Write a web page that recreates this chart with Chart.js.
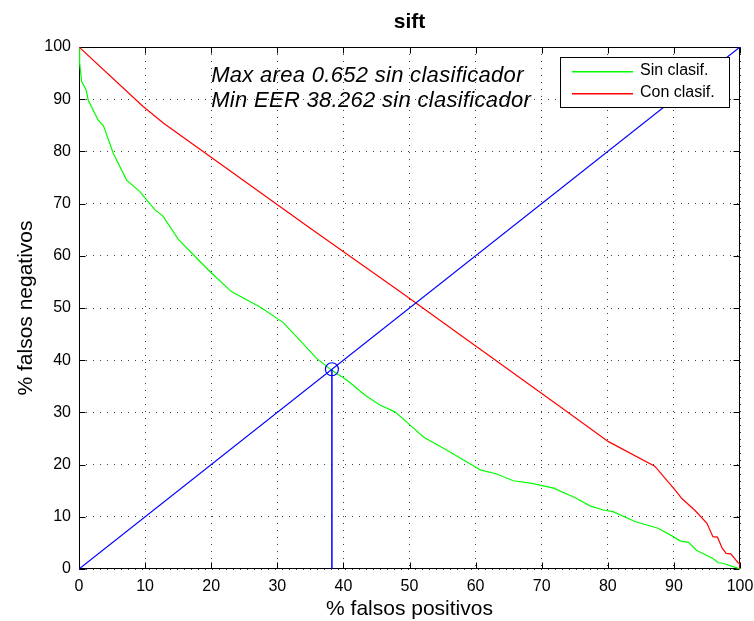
<!DOCTYPE html>
<html>
<head>
<meta charset="utf-8">
<script src="https://cdn.jsdelivr.net/npm/chart.js@4.4.0/dist/chart.umd.min.js"></script>
<style>
html,body{margin:0;padding:0;background:#fff;}
#wrap{width:754px;height:621px;}
</style>
</head>
<body>
<div id="wrap"><canvas id="c" width="754" height="621"></canvas></div>
<script>
// ---- data ----
const chartTitle = 'sift';
const xAxisTitle = '% falsos positivos';
const yAxisTitle = '% falsos negativos';
const xTicks = [0,10,20,30,40,50,60,70,80,90,100];
const yTicks = [0,10,20,30,40,50,60,70,80,90,100];

const sinLabel = 'Sin clasif.';
const sinX = [0,0.1,0.4,1.1,1.4,2.9,3.7,5.2,7.2,9.2,11.5,12.7,15.0,18.3,19.8,23.1,27.4,30.9,32.9,35.9,38.2,40.5,43.3,45.5,47.8,49.8,52.1,55.6,59.9,60.7,63.2,65.7,68.5,71.8,75.0,77.3,79.3,80.8,84.1,87.6,89.9,90.9,92.2,93.4,95.9,96.7,97.4,100];
const sinY = [100,96.9,93.4,91.7,89.8,86.0,84.9,79.6,74.5,72.3,68.8,67.6,63.2,58.9,57.0,53.1,50.2,47.2,44.5,40.4,38.1,36.2,33.3,31.4,30.1,27.9,25.3,22.8,19.6,19.0,18.2,16.9,16.4,15.5,13.7,12.1,11.3,11.0,9.1,7.8,6.2,5.4,5.1,3.6,2.0,1.2,1.1,0];

const conLabel = 'Con clasif.';
const conX = [0,9.7,12.8,35.2,48.6,72.8,80.1,87.1,90.2,91.2,93.2,95.0,95.9,96.6,97.3,97.9,98.6,99.2,99.7,100,100];
const conY = [100,88.6,85.4,65.1,53.1,31.1,24.4,19.7,15.1,13.5,11.2,8.75,6.2,6.1,4.0,3.0,2.9,2.0,1.2,1.0,0];

const diagX = [0,100];
const diagY = [0,100];

const maxArea = 0.652;
const minEER = 38.262;
const annotLines = ['Max area ' + maxArea.toFixed(3) + ' sin clasificador',
                    'Min EER ' + minEER.toFixed(3) + ' sin clasificador'];

// ---- helpers ----
const pts = (xs, ys) => xs.map((v, i) => ({x: v, y: ys[i]}));
const FONT = "'Liberation Sans', Arial, sans-serif";
const GREEN = 'rgb(0,255,0)', RED = 'rgb(255,0,0)', BLUE = 'rgb(0,0,255)';
const legendLabels = [sinLabel, conLabel];
const legendColors = [GREEN, RED];

// annotation anchor (data units)
const annotAnchor = {x: 20, y1: 93.35, y2: 88.5};

const framePlugin = {
  id: 'frame',
  beforeDatasetsDraw(chart) {
    const {ctx, chartArea: a, scales: {x, y}} = chart;
    ctx.save();
    ctx.strokeStyle = '#000';
    ctx.lineWidth = 1;
    ctx.beginPath();
    const L = Math.round(a.left) + 0.5, R = Math.round(a.right) - 0.5;
    const T = Math.round(a.top) + 0.5, B = Math.round(a.bottom) - 0.5;
    xTicks.forEach(v => {
      const px = Math.round(x.getPixelForValue(v)) + 0.5;
      ctx.moveTo(px, B); ctx.lineTo(px, B - 6);
      ctx.moveTo(px, T); ctx.lineTo(px, T + 6);
    });
    yTicks.forEach(v => {
      const py = Math.round(y.getPixelForValue(v)) + 0.5;
      ctx.moveTo(L, py); ctx.lineTo(L + 6, py);
      ctx.moveTo(R, py); ctx.lineTo(R - 6, py);
    });
    ctx.stroke();
    ctx.strokeRect(L, T, R - L, B - T);
    ctx.restore();
  }
};

const overlayPlugin = {
  id: 'overlay',
  afterDraw(chart) {
    const {ctx, chartArea: a, scales: {x, y}} = chart;
    ctx.save();
    ctx.setLineDash([]);
    ctx.globalAlpha = 1;
    // annotation text
    ctx.fillStyle = '#000';
    ctx.font = 'italic 22px ' + FONT;
    ctx.letterSpacing = '0.3px';
    ctx.textBaseline = 'alphabetic';
    ctx.textAlign = 'left';
    const ax = x.getPixelForValue(annotAnchor.x);
    ctx.fillText(annotLines[0], ax, y.getPixelForValue(annotAnchor.y1));
    ctx.fillText(annotLines[1], ax, y.getPixelForValue(annotAnchor.y2));
    ctx.letterSpacing = '0px';
    // legend
    const bw = 169, bh = 50;
    const bx = Math.round(a.right) - 11 - bw, by = Math.round(a.top) + 10;
    ctx.fillStyle = '#fff';
    ctx.fillRect(bx, by, bw, bh);
    ctx.strokeStyle = '#000';
    ctx.lineWidth = 1;
    ctx.strokeRect(bx + 0.5, by + 0.5, bw, bh);
    ctx.font = '16px ' + FONT;
    ctx.textBaseline = 'middle';
    legendLabels.forEach((lab, i) => {
      const cy = by + 14 + i * 22;
      ctx.fillStyle = legendColors[i];
      ctx.fillRect(bx + 12, cy, 61, 1.5);
      ctx.fillStyle = '#000';
      ctx.fillText(lab, bx + 80, cy);
    });
    ctx.restore();
  }
};

new Chart(document.getElementById('c'), {
  type: 'scatter',
  data: {
    datasets: [
      {label: sinLabel, data: pts(sinX, sinY), showLine: true, borderColor: GREEN, borderWidth: 1.2, pointRadius: 0, order: 4},
      {label: conLabel, data: pts(conX, conY), showLine: true, borderColor: RED, borderWidth: 1.2, pointRadius: 0, order: 3},
      {label: 'diag', data: pts(diagX, diagY), showLine: true, borderColor: BLUE, borderWidth: 1.2, pointRadius: 0, order: 2},
      {label: 'eer line', data: [{x: minEER, y: 0}, {x: minEER, y: minEER}], showLine: true, borderColor: BLUE, borderWidth: 1.5, pointRadius: 0, order: 1},
      {label: 'eer', data: [{x: minEER, y: minEER}], showLine: false, borderColor: BLUE, backgroundColor: 'rgba(0,0,0,0)', pointRadius: 6.5, pointBorderWidth: 1.2, order: 0}
    ]
  },
  options: {
    responsive: false,
    animation: false,
    events: [],
    layout: {padding: {left: 0, right: 14, top: 0, bottom: 0}},
    plugins: {
      legend: {display: false},
      tooltip: {enabled: false},
      title: {
        display: true, text: chartTitle, fullSize: false, color: '#000',
        font: {family: FONT, size: 21, weight: 'bold', lineHeight: 1.2},
        padding: {top: 9.4, bottom: 12.4}
      }
    },
    scales: {
      x: {
        type: 'linear', min: 0, max: 100,
        afterBuildTicks: s => { s.ticks = xTicks.map(v => ({value: v})); },
        afterFit: s => { s.height = 52; s.paddingLeft = 0; s.paddingRight = 0; },
        ticks: {color: '#000', font: {family: FONT, size: 16}, padding: 8, maxRotation: 0, autoSkip: false},
        grid: {color: 'rgba(0,0,0,0.75)', lineWidth: 1, drawTicks: false},
        border: {display: false, dash: [1, 6]},
        title: {display: true, text: xAxisTitle, color: '#000', font: {family: FONT, size: 21, lineHeight: 1}, padding: {top: 0, bottom: 0.8}}
      },
      y: {
        type: 'linear', min: 0, max: 100,
        afterBuildTicks: s => { s.ticks = yTicks.map(v => ({value: v})); },
        afterFit: s => { s.width = 79; s.paddingTop = 0; s.paddingBottom = 0; },
        ticks: {color: '#000', font: {family: FONT, size: 16}, padding: 8, autoSkip: false},
        grid: {color: 'rgba(0,0,0,0.75)', lineWidth: 1, drawTicks: false},
        border: {display: false, dash: [1, 6]},
        title: {display: true, text: yAxisTitle, color: '#000', font: {family: FONT, size: 21, lineHeight: 1}, padding: {top: 15.5, bottom: 0}}
      }
    }
  },
  plugins: [framePlugin, overlayPlugin]
});
</script>
</body>
</html>
